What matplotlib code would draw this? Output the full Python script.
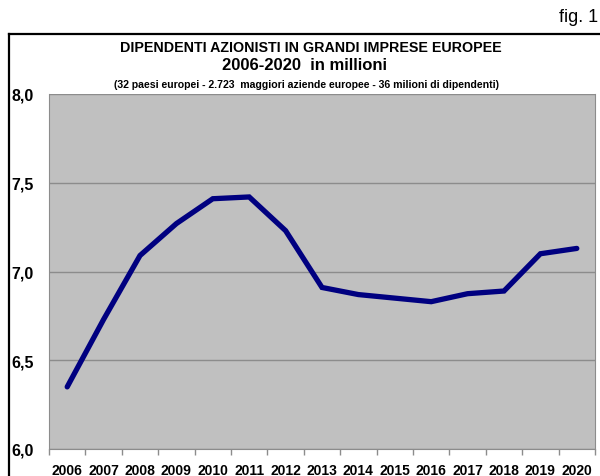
import numpy as np
import matplotlib
matplotlib.use('Agg')
import matplotlib.pyplot as plt
from matplotlib.lines import Line2D

# Dati
anni = ['2006', '2007', '2008', '2009', '2010', '2011', '2012', '2013',
        '2014', '2015', '2016', '2017', '2018', '2019', '2020']
dipendenti = [6.35, 6.73, 7.09, 7.27, 7.41, 7.42, 7.23, 6.91,
              6.87, 6.85, 6.83, 6.875, 6.89, 7.10, 7.13]
y_ticks = [6.0, 6.5, 7.0, 7.5, 8.0]
y_labels = ['6,0', '6,5', '7,0', '7,5', '8,0']

narrow = ['Liberation Sans Narrow', 'Liberation Sans', 'DejaVu Sans']
arial = ['Liberation Sans', 'DejaVu Sans']

fig = plt.figure(figsize=(6, 4.77), dpi=100)
ax = fig.add_axes([49/600, 1 - 450/477, 546/600, 355/477])

x = np.arange(len(anni))
ax.plot(x, dipendenti, color='#000080', linewidth=3.8, solid_joinstyle='miter',
        solid_capstyle='round', zorder=3)

ax.set_facecolor('#C0C0C0')
ax.set_xlim(-0.5, len(anni) - 0.5)
ax.set_ylim(6.0, 8.0)

# griglia orizzontale
ax.set_yticks(y_ticks)
ax.set_yticklabels(y_labels, fontfamily=arial, fontweight='bold', fontsize=11.5)
ax.grid(axis='y', color='#8c8c8c', linewidth=1)
ax.tick_params(axis='y', length=0, pad=27)
for lab in ax.get_yticklabels():
    lab.set_horizontalalignment('left')
    lab.set_verticalalignment('center_baseline')

ax.set_xticks(x)
ax.set_xticklabels(anni, fontfamily=arial, fontweight='bold', fontsize=10)
ax.set_xticks(np.arange(-0.5, len(anni), 1), minor=True)
ax.tick_params(axis='x', which='major', length=0, pad=10)
ax.tick_params(axis='x', which='minor', length=4, color='#8c8c8c', width=1)

for s in ['left', 'bottom', 'right']:
    ax.spines[s].set_color('#8c8c8c')
ax.spines['top'].set_visible(False)

# titoli
fig.text(0.518, 1 - 48/477, 'DIPENDENTI AZIONISTI IN GRANDI IMPRESE EUROPEE',
         ha='center', va='center', fontfamily=narrow, fontweight='bold', fontsize=10.3)
fig.text(0.508, 1 - 66/477, '2006-2020  in millioni',
         ha='center', va='center', fontfamily=narrow, fontweight='bold', fontsize=12)
fig.text(0.51, 1 - 85/477,
         '(32 paesi europei - 2.723  maggiori aziende europee - 36 milioni di dipendenti)',
         ha='center', va='center', fontfamily=narrow, fontweight='bold', fontsize=7.6)
fig.text(0.997, 1 - 18/477, 'fig. 1', ha='right', va='center',
         fontfamily=arial, fontsize=13)

# cornice
fig.add_artist(Line2D([9/600, 9/600], [0, 1 - 35/477], color='black', linewidth=1.6,
                      transform=fig.transFigure))
fig.add_artist(Line2D([9/600, 1], [1 - 35/477, 1 - 35/477], color='black', linewidth=1.6,
                      transform=fig.transFigure))

fig.savefig('out.png', dpi=100)
